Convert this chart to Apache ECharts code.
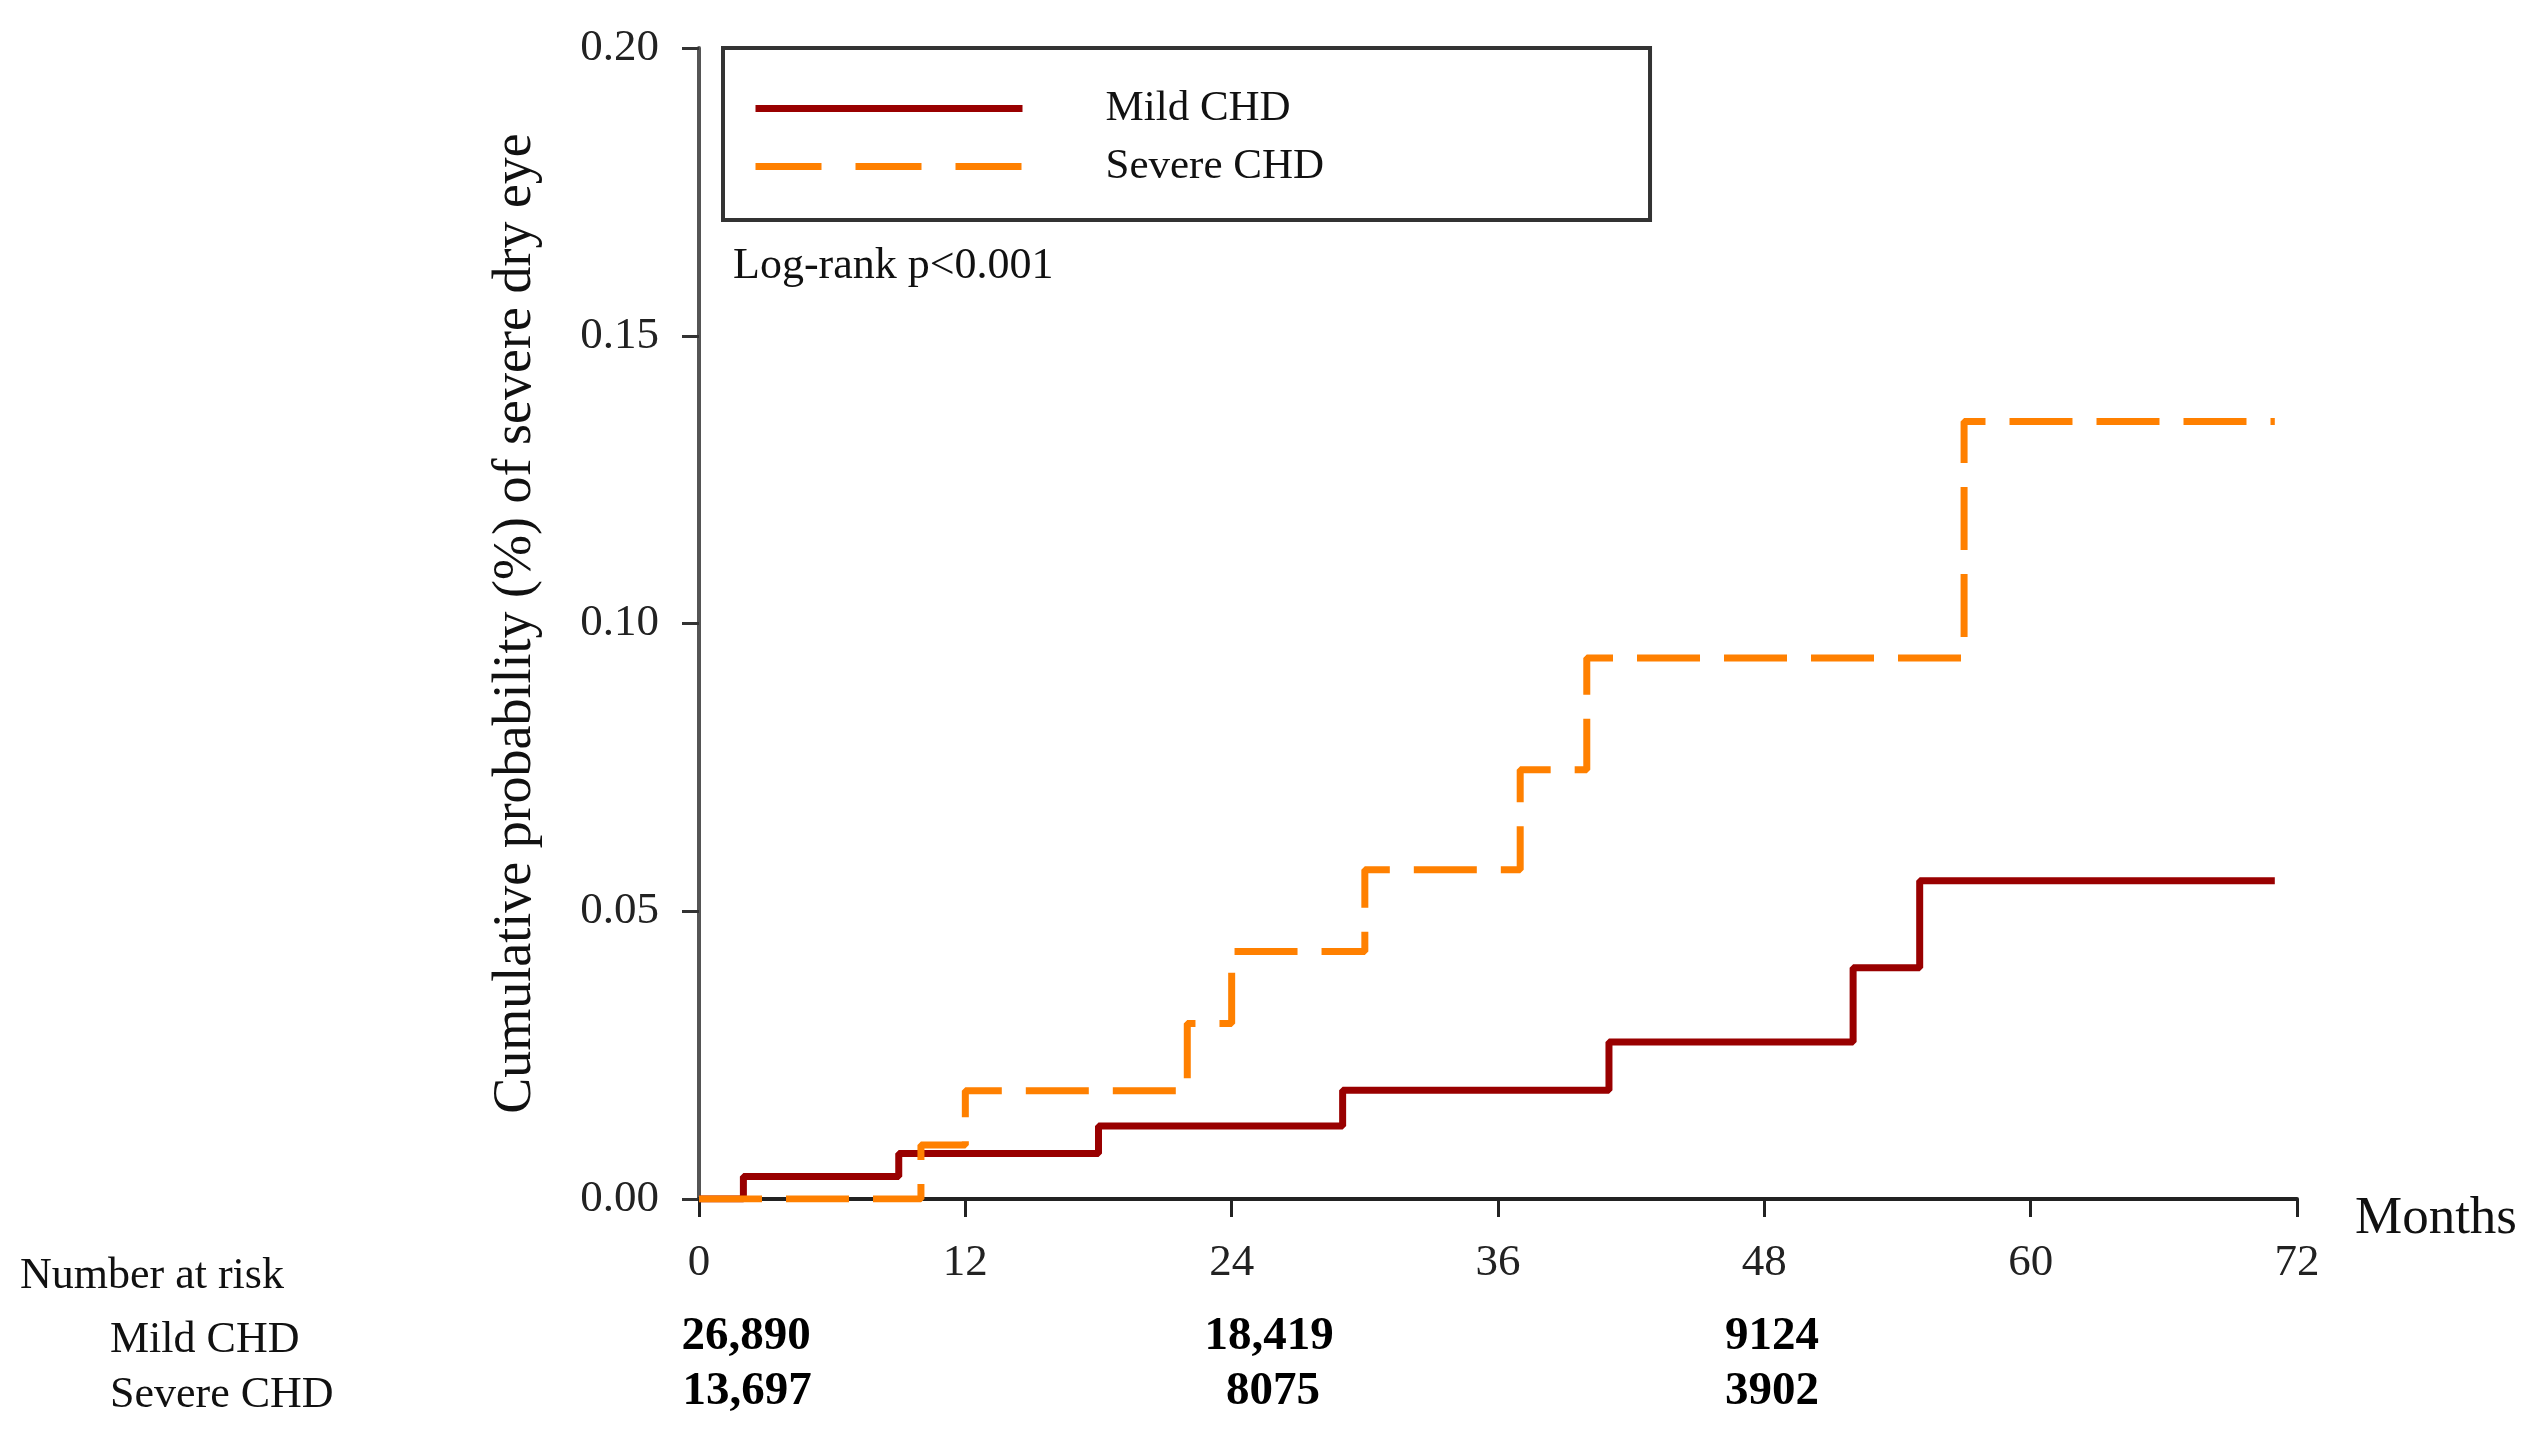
<!DOCTYPE html>
<html>
<head>
<meta charset="utf-8">
<script src="https://cdn.jsdelivr.net/npm/echarts@6/dist/echarts.min.js"></script>
<style>
html,body{margin:0;padding:0;background:#fff;}
#chart{width:2537px;height:1444px;}
</style>
</head>
<body>
<div id="chart"></div>
<script>
// ---- data ----
const seriesNames = ['Mild CHD', 'Severe CHD'];
const mildCHD = [[0,0],[2,0.0039],[9,0.0079],[18,0.0127],[29,0.0189],[41,0.0273],[52,0.0402],[55,0.0553],[71,0.0553]];
const severeCHD = [[0,0],[10,0.0094],[12,0.0188],[22,0.0305],[24,0.0430],[30,0.0572],[37,0.0746],[40,0.0940],[57,0.1351],[71,0.1351]];
const xTicks = [0,12,24,36,48,60,72];
const yTicks = [0,0.05,0.10,0.15,0.20];
const riskLabel = 'Number at risk';
const riskMild = ['26,890','18,419','9124'];
const riskSevere = ['13,697','8075','3902'];
const annotation = 'Log-rank p<0.001';

const FONT = '"Liberation Serif", "Times New Roman", serif';
const chart = echarts.init(document.getElementById('chart'));

const riskXMild = [746, 1269, 1772];
const riskXSevere = [747, 1273, 1772];
const riskGraphics = [];
riskGraphics.push({type:'text', left:20, top:1278-24, style:{text:riskLabel, font:'44px ' + FONT, fill:'#111'}});
riskGraphics.push({type:'text', left:110, top:1342-24, style:{text:seriesNames[0], font:'44px ' + FONT, fill:'#111'}});
riskGraphics.push({type:'text', left:110, top:1397-24, style:{text:seriesNames[1], font:'44px ' + FONT, fill:'#111'}});
riskMild.forEach((t,i)=>riskGraphics.push({type:'text', x:riskXMild[i], y:1337, style:{text:t, font:'bold 47px ' + FONT, fill:'#000', textAlign:'center', textVerticalAlign:'middle'}}));
riskSevere.forEach((t,i)=>riskGraphics.push({type:'text', x:riskXSevere[i], y:1392, style:{text:t, font:'bold 47px ' + FONT, fill:'#000', textAlign:'center', textVerticalAlign:'middle'}}));

chart.setOption({
  animation:false,
  backgroundColor:'#fff',
  textStyle:{fontFamily:FONT},
  grid:{left:699, right:240, top:48, bottom:245, containLabel:false},
  title:{text:annotation, left:728, top:239, textStyle:{fontFamily:FONT, fontSize:44, fontWeight:'normal', color:'#111'}},
  legend:{
    left:723, top:48, orient:'vertical',
    data:[
      {name:seriesNames[0]},
      {name:seriesNames[1], lineStyle:{type:[66,34]}}
    ],
    itemWidth:267, itemHeight:20, itemGap:15,
    padding:[39, 326, 32, 29],
    borderColor:'#333', borderWidth:4,
    itemStyle:{opacity:0},
    lineStyle:{width:7},
    textStyle:{fontFamily:FONT, fontSize:43, color:'#111', padding:[0,0,0,78]}
  },
  xAxis:{
    type:'value', min:0, max:72, interval:12,
    name:'Months', nameLocation:'end', nameGap:58,
    nameTextStyle:{fontFamily:FONT, fontSize:53, lineHeight:40, color:'#111', align:'left', verticalAlign:'top'},
    axisLine:{show:true, onZero:false, lineStyle:{color:'#222', width:4}},
    axisTick:{show:true, length:18, lineStyle:{color:'#222', width:3}},
    axisLabel:{margin:42, fontFamily:FONT, fontSize:45, color:'#222', formatter:v=>xTicks.includes(v)?String(v):''},
    splitLine:{show:false}
  },
  yAxis:{
    type:'value', min:0, max:0.2, interval:0.05,
    name:'Cumulative probability (%) of severe dry eye', nameLocation:'middle', nameGap:156,
    nameTextStyle:{fontFamily:FONT, fontSize:54, color:'#111'},
    axisLine:{show:true, lineStyle:{color:'#555', width:4}},
    axisTick:{show:true, length:17, lineStyle:{color:'#333', width:3}},
    axisLabel:{margin:40, fontFamily:FONT, fontSize:45, color:'#222', formatter:v=>yTicks.some(t=>Math.abs(t-v)<1e-9)?v.toFixed(2):''},
    splitLine:{show:false}
  },
  graphic:riskGraphics,
  series:[
    {name:seriesNames[0], type:'line', step:'end', data:mildCHD, symbol:'none',
     lineStyle:{color:'#990000', width:7}, itemStyle:{color:'#990000'}, z:2},
    {name:seriesNames[1], type:'line', step:'end', data:severeCHD, symbol:'none',
     lineStyle:{color:'#FF8000', width:7, type:[63,24]}, itemStyle:{color:'#FF8000'}, z:3}
  ]
});
</script>
</body>
</html>
